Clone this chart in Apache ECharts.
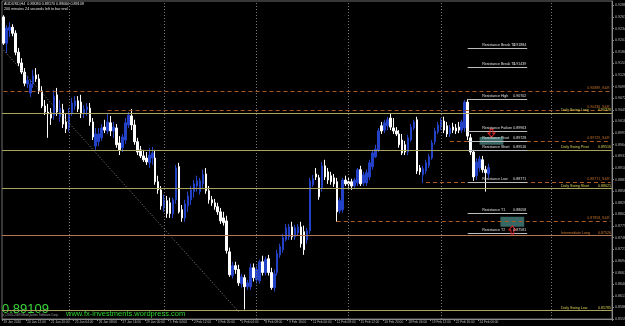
<!DOCTYPE html>
<html><head><meta charset="utf-8">
<script src="https://cdn.jsdelivr.net/npm/echarts/dist/echarts.min.js"></script>
<style>html,body{margin:0;padding:0;background:#000;}#c{width:625px;height:326px;}</style>
</head><body><div id="c"></div>
<script>
const xTickLabels = ['19 Jan 2010','20 Jan 12:00','21 Jan 20:00','25 Jan 04:00','26 Jan 08:00','27 Jan 16:00','29 Jan 00:00','1 Feb 04:00','2 Feb 12:00','3 Feb 20:00','5 Feb 04:00','8 Feb 08:00','9 Feb 16:00','11 Feb 00:00','12 Feb 08:00','15 Feb 12:00','16 Feb 20:00','18 Feb 04:00','19 Feb 12:00','22 Feb 16:00','24 Feb 00:00'];
const slotCount = 205;
const opens = [
.9261,.9200,.9230,.9237,.9223,.9179,.9154,.9133,.9105,.9084,
.9105,.9126,.9117,.9089,.9054,.9040,.9038,.9033,.9080,.9029,
.9045,.9017,.9003,.9038,.9054,.9066,.9063,.9036,.9045,.9049,
.9017,.8961,.8971,.8980,.9005,.8996,.9015,.8996,.9003,.8968,
.8957,.8975,.9010,.9031,.9010,.8971,.8952,.8938,.8933,.8922,
.8933,.8933,.8878,.8859,.8817,.8834,.8829,.8804,.8836,.8913,
.8813,.8794,.8822,.8836,.8855,.8868,.8855,.8873,.8896,.8857,
.8836,.8829,.8820,.8808,.8794,.8787,.8715,.8660,.8683,.8674,
.8641,.8655,.8634,.8634,.8678,.8650,.8648,.8692,.8667,.8699,
.8667,.8632,.8667,.8708,.8720,.8743,.8750,.8773,.8750,.8759,
.8773,.8762,.8743,.8764,.8871,.8896,.8887,.8864,.8915,.8901,
.8892,.8887,.8878,.8810,.8813,.8882,.8878,.8878,.8868,.8875,
.8906,.8875,.8875,.8889,.8913,.8936,.8952,.9008,.8998,.9008,
.9026,.9003,.8996,.8989,.8975,.8964,.8947,.8975,.9003,.9022,
.8910,.8894,.8903,.8915,.8933,.8971,.8994,.9005,.9019,.9008,
.8989,.9005,.9003,.9005,.8998,.9003,.9063,.8980,.8947,.8892,
.8910,.8929,.8906,.8896];
const highs = [
.9265,.9242,.9249,.9244,.9230,.9189,.9165,.9142,.9124,.9114,
.9138,.9142,.9128,.9100,.9068,.9059,.9049,.9091,.9096,.9068,
.9059,.9036,.9049,.9073,.9077,.9077,.9080,.9056,.9061,.9061,
.9026,.9003,.9003,.9012,.9022,.9036,.9031,.9017,.9012,.8984,
.8989,.9026,.9040,.9047,.9022,.8980,.8961,.8952,.8947,.8957,
.8959,.8952,.8892,.8868,.8848,.8845,.8841,.8841,.8917,.8922,
.8824,.8836,.8855,.8868,.8882,.8892,.8887,.8906,.8910,.8868,
.8845,.8838,.8829,.8817,.8808,.8799,.8725,.8692,.8692,.8685,
.8664,.8662,.8650,.8688,.8688,.8683,.8697,.8706,.8704,.8708,
.8678,.8674,.8720,.8734,.8757,.8780,.8780,.8785,.8778,.8780,
.8785,.8776,.8771,.8887,.8894,.8910,.8894,.8924,.8929,.8910,
.8901,.8896,.8887,.8841,.8887,.8892,.8887,.8885,.8887,.8910,
.8915,.8901,.8906,.8929,.8952,.8964,.9003,.9017,.9022,.9029,
.9036,.9026,.9005,.8998,.8989,.8973,.8987,.9012,.9022,.9029,
.8917,.8915,.8929,.8943,.8975,.9003,.9017,.9026,.9029,.9017,
.9010,.9015,.9012,.9017,.9022,.9068,.9070,.8989,.8952,.8933,
.8938,.8938,.8915,.8920];
const lows = [
.9196,.9177,.9214,.9216,.9172,.9147,.9128,.9100,.9096,.9075,
.9096,.9110,.9082,.9049,.9033,.8980,.9010,.9022,.9031,.9017,
.9003,.8991,.8994,.9031,.9045,.9040,.9026,.9026,.9031,.9008,
.8975,.8952,.8961,.8973,.8991,.8989,.8984,.8980,.8957,.8940,
.8947,.8966,.9003,.8998,.8964,.8940,.8933,.8924,.8917,.8910,
.8917,.8871,.8850,.8813,.8808,.8794,.8794,.8794,.8827,.8804,
.8785,.8785,.8808,.8824,.8841,.8855,.8848,.8864,.8850,.8827,
.8822,.8813,.8801,.8780,.8776,.8711,.8657,.8653,.8664,.8636,
.8632,.8581,.8627,.8627,.8646,.8641,.8641,.8660,.8660,.8660,
.8627,.8623,.8660,.8701,.8713,.8739,.8743,.8743,.8743,.8752,
.8725,.8708,.8734,.8757,.8866,.8882,.8836,.8855,.8882,.8873,
.8871,.8866,.8785,.8804,.8806,.8868,.8864,.8859,.8864,.8868,
.8868,.8868,.8868,.8882,.8906,.8933,.8947,.8989,.8991,.8998,
.8998,.8989,.8984,.8957,.8940,.8940,.8940,.8971,.8998,.8896,
.8894,.8875,.8896,.8910,.8929,.8964,.8989,.8998,.8991,.8982,
.8982,.8991,.8989,.8991,.8991,.8994,.8975,.8940,.8880,.8882,
.8901,.8899,.8855,.8887];
const closes = [
.9200,.9235,.9237,.9223,.9179,.9154,.9133,.9107,.9114,.9105,
.9124,.9117,.9089,.9054,.9040,.9036,.9026,.9077,.9040,.9049,
.9012,.9001,.9033,.9061,.9066,.9047,.9036,.9047,.9052,.9017,
.8982,.8989,.8989,.9003,.8998,.9017,.8996,.9005,.8964,.8952,
.8982,.9015,.9033,.9010,.8971,.8947,.8938,.8929,.8924,.8940,
.8945,.8878,.8859,.8822,.8836,.8804,.8804,.8836,.8910,.8808,
.8794,.8827,.8845,.8859,.8873,.8880,.8880,.8894,.8857,.8836,
.8829,.8820,.8808,.8787,.8783,.8718,.8662,.8683,.8674,.8643,
.8657,.8634,.8643,.8678,.8655,.8674,.8692,.8667,.8697,.8667,
.8632,.8664,.8711,.8727,.8748,.8771,.8773,.8750,.8771,.8773,
.8734,.8720,.8764,.8880,.8885,.8889,.8843,.8915,.8889,.8882,
.8878,.8873,.8808,.8834,.8882,.8873,.8873,.8868,.8882,.8906,
.8873,.8894,.8899,.8922,.8945,.8954,.8996,.8996,.9015,.9022,
.9005,.8996,.8989,.8964,.8945,.8947,.8980,.9005,.9017,.8903,
.8901,.8908,.8922,.8936,.8968,.8996,.9010,.9019,.8998,.8989,
.9003,.8998,.8996,.8998,.9017,.9063,.8984,.8947,.8889,.8924,
.8931,.8906,.8899,.89109];

const lastPrice = 0.89109;
const srValues = [0.90889, 0.90436, 0.89729, 0.88771, 0.87858];
const srStartBar = [0, 35, 150, 142, 112];
const swingNames = ['Daily Swing Long','Daily Swing Pivot','Daily Swing Short','Intermediate Long','Daily Swing Low'];
const swingValues = [0.90378, 0.89516, 0.88621, 0.87526, 0.85785];
const resNames = ['Resistance Break T2','Resistance Break T1','Resistance High','Resistance Failure','Resistance Pivot','Resistance Short','Resistance Low','Resistance T1','Resistance T2'];
const resValues = [0.91884, 0.91439, 0.90702, 0.89963, 0.89728, 0.89516, 0.88771, 0.88058, 0.87581];
const resStartBar = 156, resEndBar = 176;
const trendLine = [[0, 0.9184], [79, 0.8576]];
const gridBars = [22, 54, 85, 116, 147, 184];
const arrowsDown = [[163.5, 0.8991]];
const arrowsUp = [[170.9, 0.8766]];
const boxes = [[[160, 0.8982], [168, 0.8964]], [[167, 0.87966], [174.6, 0.87734]]];

const slots = Array.from({length: slotCount}, (_, i) => String(i));
const candles = opens.map((o, i) => [o, closes[i], lows[i], highs[i]]);

const SR_COLOR = '#a85a22', SWING_COLOR = '#aaa35e', INTER_COLOR = '#b47656', RES_COLOR = '#bcbcbc';
const FS = 3.6;
const lastBar = slotCount - 1;
const mlData = [];
gridBars.forEach(b => mlData.push({xAxis: b, lineStyle: {color: '#7a7a7a', type: [1, 2], width: 1}, label: {show: false}}));
mlData.push([{coord: trendLine[0], lineStyle: {color: '#8a8a8a', type: [1, 2], width: 1}, label: {show: false}}, {coord: trendLine[1]}]);
srValues.forEach((v, k) => {
  const lab = {show: true, position: 'insideEndTop', distance: 1, formatter: v.toFixed(5) + '_S&R', color: '#c0702a', fontSize: FS};
  const ls = {color: SR_COLOR, type: [4, 3], width: 1, opacity: 1};
  mlData.push([{coord: [srStartBar[k], v], lineStyle: ls, label: lab}, {coord: [lastBar, v]}]);
});
swingValues.forEach((v, k) => {
  const isInter = swingNames[k] === 'Intermediate Long';
  const col = isInter ? INTER_COLOR : SWING_COLOR;
  const tcol = isInter ? '#d07a3a' : '#d8d050';
  mlData.push({yAxis: v, lineStyle: {color: col, type: 'solid', width: 1},
    label: {show: true, position: 'insideEndTop', distance: 1,
      formatter: '{n|' + swingNames[k] + '}{v|' + v.toFixed(5) + '}',
      rich: {n: {color: tcol, fontSize: FS, width: 36, align: 'left'}, v: {color: tcol, fontSize: FS, width: 14, align: 'right'}}}});
});
resValues.forEach((v, k) => {
  mlData.push([{coord: [resStartBar, v], lineStyle: {color: RES_COLOR, type: 'solid', width: 1},
    label: {show: true, position: 'insideEndTop', distance: 1,
      formatter: '{n|' + resNames[k] + '}{v|' + v.toFixed(5) + '}',
      rich: {n: {color: '#e0e0e0', fontSize: FS, width: 30, align: 'left'}, v: {color: '#e0e0e0', fontSize: FS, width: 14, align: 'right'}}}},
    {coord: [resEndBar, v]}]);
});
mlData.push({yAxis: lastPrice, lineStyle: {opacity: 0}, label: {show: true, position: 'end', distance: 2, formatter: lastPrice.toFixed(5), backgroundColor: '#ffffff', color: '#000', fontSize: FS, padding: [1, 1, 0, 1]}});

const downPath = 'path://M3,0 L7,0 L7,5 L10,5 L5,10 L0,5 L3,5 Z';
const upPath = 'path://M5,0 L10,5 L7,5 L7,10 L3,10 L3,5 L0,5 Z';
const mpData = [];
arrowsDown.forEach(c => mpData.push({coord: c, symbol: downPath, symbolSize: [7, 8], itemStyle: {color: 'rgba(0,0,0,0)', borderColor: '#e02424', borderWidth: 1}}));
arrowsUp.forEach(c => mpData.push({coord: c, symbol: upPath, symbolSize: [7, 8], itemStyle: {color: 'rgba(0,0,0,0)', borderColor: '#e02424', borderWidth: 1}}));

const chart = echarts.init(document.getElementById('c'), null, {renderer: 'canvas'});
chart.setOption({
  backgroundColor: '#000000',
  animation: false,
  textStyle: {fontFamily: 'Liberation Sans'},
  grid: {left: 2, right: 13, top: 1, bottom: 7, show: true, borderColor: '#6e6e6e', borderWidth: 1, containLabel: false, outerBoundsMode: 'none'},
  xAxis: {
    type: 'category', data: slots, boundaryGap: true,
    axisLine: {show: true, lineStyle: {color: '#8a8a8a'}},
    axisTick: {show: true, length: 2, interval: (i) => i % 8 === 0 && i / 8 < xTickLabels.length, lineStyle: {color: '#8a8a8a'}},
    axisLabel: {interval: (i) => i % 8 === 0 && i / 8 < xTickLabels.length, formatter: (v, i) => xTickLabels[i / 8] || '', fontSize: 3.2, color: '#bdbdbd', align: 'left', margin: 2, hideOverlap: false},
    splitLine: {show: false}
  },
  yAxis: {
    type: 'value', position: 'right', min: 0.8559, max: 0.9298, interval: 0.0027, scale: true,
    axisLine: {show: true, lineStyle: {color: '#8a8a8a'}},
    axisTick: {show: true, length: 2, lineStyle: {color: '#8a8a8a'}},
    axisLabel: {fontSize: FS, color: '#bdbdbd', margin: 3, formatter: v => v.toFixed(5), showMaxLabel: false, hideOverlap: false},
    splitLine: {show: false}
  },
  graphic: [
    {type: 'text', left: 4, top: 2, style: {text: 'AUDUSD,H4  0.89080 0.89170 0.89060 0.89109', fill: '#e0e0e0', fontSize: 3.7, fontFamily: 'Liberation Sans'}},
    {type: 'text', left: 4, top: 7, style: {text: '200 minutes 24 seconds left to bar end', fill: '#e0e0e0', fontSize: 3.7, fontFamily: 'Liberation Sans'}},
    {type: 'text', left: 2, top: 303, style: {text: lastPrice.toFixed(5), fill: '#3ad63a', fontSize: 13, fontFamily: 'Liberation Sans'}},
    {type: 'text', left: 2, top: 314, style: {text: '(c) 2001-2009 MetaQuotes Software Corp.', fill: '#a0a0a0', fontSize: 3, fontFamily: 'Liberation Sans'}},
    {type: 'text', left: 66, top: 310, style: {text: 'www.fx-investments.wordpress.com', fill: '#2fd12f', fontSize: 7.5, fontFamily: 'Liberation Sans'}}
  ],
  series: [{
    type: 'candlestick', data: candles, barWidth: 2,
    itemStyle: {color: '#2442c8', color0: '#ffffff', borderColor: '#2442c8', borderColor0: '#ffffff', borderWidth: 1},
    markLine: {silent: true, symbol: ['none', 'none'], precision: 5, animation: false, data: mlData},
    markPoint: {silent: true, animation: false, label: {show: false}, data: mpData},
    markArea: {silent: true, itemStyle: {color: 'rgba(70,130,128,0.8)'}, data: boxes.map(b => [{coord: b[0]}, {coord: b[1]}])}
  }]
});
</script></body></html>
